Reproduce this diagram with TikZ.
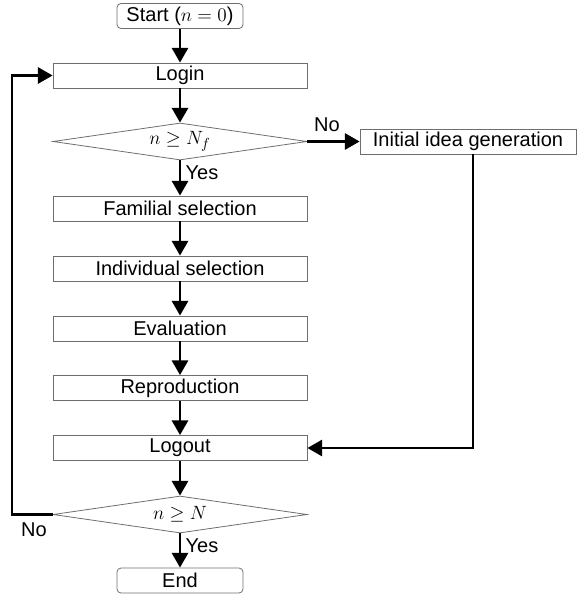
\documentclass[tikz,border=0pt]{standalone}
\usepackage{fontspec}
\setmainfont{Liberation Sans}
\usetikzlibrary{shapes.geometric,arrows.meta}
\definecolor{boxgray}{HTML}{6e6e6e}
\tikzset{
	% ------- every something
	every picture/.style={
		x=0.75pt, y=-0.75pt,
	},
	every node/.style={
		font=\fontsize{15}{17}\selectfont,
	},
	% ------- custom
	process/.style={
		draw=boxgray, line width=0.6pt, rectangle,
		minimum width=190.5pt, minimum height=18.75pt, inner sep=0pt,
	},
	terminal/.style={
		process, rounded corners=3pt, minimum width=94.5pt,
	},
	decision/.style={
		draw=boxgray, line width=0.6pt, diamond, aspect=6.8, inner sep=0pt,
		minimum width=190.5pt, minimum height=27.75pt,
	},
	flow/.style={
		line width=2pt,
		-{Triangle[length=11pt,width=12pt]},
	},
	branch label/.style={
		inner sep=1pt,
	},
}
\begin{document}
\begin{tikzpicture}

	\useasboundingbox (0,0) rectangle (577,598);

% nodes, main column %{{{1

	\node[terminal] (start) at (180,16) {Start ($n=0$)};
	\node[process] (login) at (180,75.5) {Login};
	\node[decision] (testf) at (180,141.5) {$n\geq N_f$};
	\node[process] (familial) at (180,208.5) {Familial selection};
	\node[process] (individual) at (180,268.5) {Individual selection};
	\node[process] (evaluation) at (180,328.5) {Evaluation};
	\node[process] (reproduction) at (180,388) {Reproduction};
	\node[process] (logout) at (180,448) {Logout};
	\node[decision] (testn) at (180,514.5) {$n\geq N$};
	\node[terminal] (end) at (180,580.5) {End};

% nodes, side branch %{{{1

	\node[process, minimum width=162pt] (initial) at (468,141.5) {Initial idea generation};

% turning points %{{{1

	\coordinate (turn) at (473,448);
	\coordinate (loopbottom) at (12,514.5);
	\coordinate (looptop) at (12,75.5);

% connectors %{{{1

	\draw[flow] (start) -- (login);
	\draw[flow] (login) -- (testf);
	\draw[flow] (testf) -- (familial);
	\draw[flow] (familial) -- (individual);
	\draw[flow] (individual) -- (evaluation);
	\draw[flow] (evaluation) -- (reproduction);
	\draw[flow] (reproduction) -- (logout);
	\draw[flow] (logout) -- (testn);
	\draw[flow] (testn) -- (end);

	\draw[flow] (testf.east) -- (initial.west);
	\draw[flow] (initial.south -| turn) -- (turn) -- (logout.east);
	\draw[flow] (testn.west) -- (loopbottom) -- (looptop) -- (login.west);

% branch labels %{{{1

	\node[branch label] (yesf) at (202,173) {Yes};
	\node[branch label] (nof) at (327,125) {No};
	\node[branch label] (yesn) at (202,546) {Yes};
	\node[branch label] (non) at (34,530) {No};

% closing %{{{1

\end{tikzpicture}
\end{document}
